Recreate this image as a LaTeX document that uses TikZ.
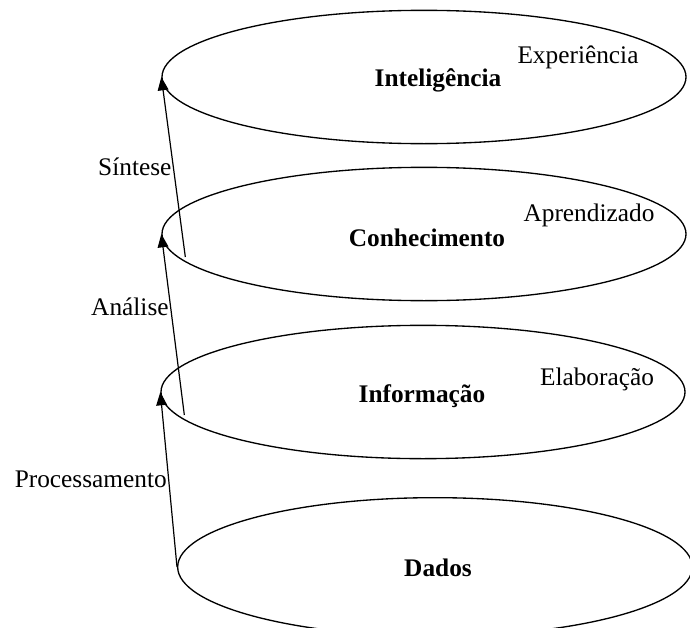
\documentclass[tikz,border=0pt]{standalone}
\usepackage{fontspec}
\setmainfont{Liberation Serif}
\usetikzlibrary{arrows.meta,positioning,shapes.geometric}

\begin{document}
\begin{tikzpicture}[
    x=0.75pt, y=-0.75pt,
    font=\fontsize{19}{22}\selectfont,
    layer/.style={ellipse, draw, line width=1pt, minimum width=393pt, minimum height=100pt, inner sep=0pt},
    title/.style={font=\fontsize{19}{22}\selectfont\bfseries},
    note/.style={inner sep=1pt},
    flow/.style={-{Triangle[length=10pt,width=8pt]}, line width=0.9pt}
  ]
    \useasboundingbox (0,0) rectangle (690,628);

    \node[layer] (intel) at (424, 77) {};
    \node[layer] (know) at (424, 234) {};
    \node[layer] (info) at (423, 392) {};
    \node[layer, minimum width=386pt, minimum height=104pt] (data) at (435, 567) {};

    \node[title] at (438, 80) {Inteligência};
    \node[title] at (427, 238) {Conhecimento};
    \node[title] at (422, 396) {Informação};
    \node[title] at (438, 568) {Dados};

    \node at (578, 57) {Experiência};
    \node at (589, 215) {Aprendizado};
    \node at (597, 379) {Elaboração};

    \draw[flow] ([shift={(24,23)}]know.west) -- node[note, pos=0.5, left] {Síntese} (intel.west);
    \draw[flow] ([shift={(24,23)}]info.west) -- node[note, pos=0.6, left] {Análise} (know.west);
    \draw[flow] (data.west) -- node[note, pos=0.5, left] {Processamento} (info.west);
  \end{tikzpicture}
\end{document}
